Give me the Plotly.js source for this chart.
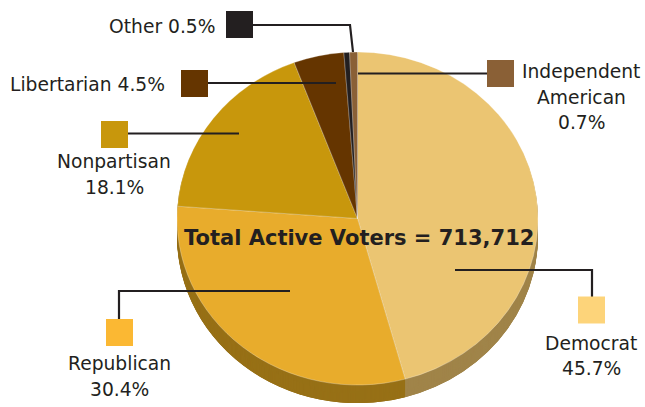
<!DOCTYPE html>
<html>
<head>
<meta charset="utf-8">
<script src="https://cdn.plot.ly/plotly-3.0.1.min.js"></script>
<style>html,body{margin:0;padding:0;background:#fff;}#chart{width:645px;height:407px;}</style>
</head>
<body>
<div id="chart"></div>
<script>
// ---- data ----
const labels = ["Democrat", "Republican", "Nonpartisan", "Libertarian", "Other", "Independent American"];
const values = [45.7, 30.4, 18.1, 4.5, 0.5, 0.7];
const sliceColors = ["#EBC572", "#E8AC2C", "#C8970C", "#653500", "#231F20", "#8A6036"];
const rimColors = ["#A08449", "#977016", "#86650A", "#432300", "#161314", "#5C4024"];
const keyColors = ["#FDD47A", "#FBB833", "#C8970C", "#653500", "#231F20", "#8A6036"];
const totalVoters = "713,712";

// ---- layout helpers (pixel geometry) ----
const W = 645, H = 407;
const cx = 357.5, cy = 218.5, r = 170, depth = 20;
const tiltX = 180.5 / r, tiltY = 166.5 / r;   // elliptical (tilted) look
function domainFor(offset) {
  return {
    x: [(cx - r) / W, (cx + r) / W],
    y: [(H - (cy + r + offset)) / H, (H - (cy - r + offset)) / H]
  };
}
function pieTrace(colors, offset, lineColor) {
  return {
    type: "pie", labels: labels, values: values, sort: false,
    direction: "clockwise", rotation: 0, textinfo: "none",
    hoverinfo: "skip", showlegend: false,
    marker: { colors: colors, line: { color: lineColor, width: 0.6 } },
    domain: domainFor(offset)
  };
}
const traces = [];
for (let k = depth; k > 0; k -= 1) traces.push(pieTrace(rimColors, k, "rgba(0,0,0,0)"));
traces.push(pieTrace(sliceColors, 0, "rgba(255,255,255,0.45)"));

// label keys: square centre, leader line path, text lines
const keys = [
  { i: 0, sq: [591.5, 310], path: "M455,270 L592,270 L592,297", text: [[591, 342], [591, 367]], anchor: "center", lines: ["Democrat", "45.7%"] },
  { i: 1, sq: [119.5, 332.5], path: "M290,291 L119,291 L119,319", text: [[119, 362], [119, 388]], anchor: "center", lines: ["Republican", "30.4%"] },
  { i: 2, sq: [114.5, 134.5], path: "M128,133.5 L239,133.5", text: [[114, 160], [114, 186]], anchor: "center", lines: ["Nonpartisan", "18.1%"] },
  { i: 3, sq: [194.5, 83.5], path: "M208,83 L336,83", text: [[167, 83]], anchor: "right", lines: ["Libertarian 4.5%"] },
  { i: 4, sq: [239.5, 24.5], path: "M253,25 L350,25 L353,52", text: [[217, 25]], anchor: "right", lines: ["Other 0.5%"] },
  { i: 5, sq: [500.5, 73.5], path: "M358,73.5 L487,73.5", text: [[581, 70], [581, 96], [581, 121]], anchor: "center", lines: ["Independent", "American", "0.7%"] }
];
const shapes = [], annotations = [];
const half = 13.5;
keys.forEach(k => {
  shapes.push({ type: "path", xref: "x", yref: "y", path: k.path, line: { color: "#231F20", width: 2.2 } });
  shapes.push({ type: "rect", xref: "x", yref: "y", x0: k.sq[0] - half, x1: k.sq[0] + half, y0: k.sq[1] - half, y1: k.sq[1] + half,
    fillcolor: keyColors[k.i], line: { width: 0 } });
  k.lines.forEach((t, j) => {
    annotations.push({ xref: "x", yref: "y", x: k.text[j][0], y: k.text[j][1] + 1, text: t, showarrow: false,
      xanchor: k.anchor, yanchor: "middle", font: { family: "DejaVu Sans", size: 18.7, color: "#231F20" } });
  });
});
annotations.push({ xref: "x", yref: "y", x: 358.5, y: 238, text: "<b>Total Active Voters = " + totalVoters + "</b>", showarrow: false,
  xanchor: "center", yanchor: "middle", font: { family: "DejaVu Sans", size: 21, color: "#231F20" } });

const layout = {
  width: W, height: H, margin: { l: 0, r: 0, t: 0, b: 0 },
  paper_bgcolor: "#fff", plot_bgcolor: "rgba(0,0,0,0)",
  xaxis: { range: [0, W], visible: false, fixedrange: true },
  yaxis: { range: [H, 0], visible: false, fixedrange: true },
  shapes: shapes, annotations: annotations, showlegend: false
};
Plotly.newPlot("chart", traces, layout, { displayModeBar: false, staticPlot: true }).then(gd => {
  const pl = gd.querySelector("g.pielayer");
  if (pl) pl.setAttribute("transform",
    "translate(" + cx + "," + cy + ") scale(" + tiltX + "," + tiltY + ") translate(" + (-cx) + "," + (-cy) + ")");
});
</script>
</body>
</html>
